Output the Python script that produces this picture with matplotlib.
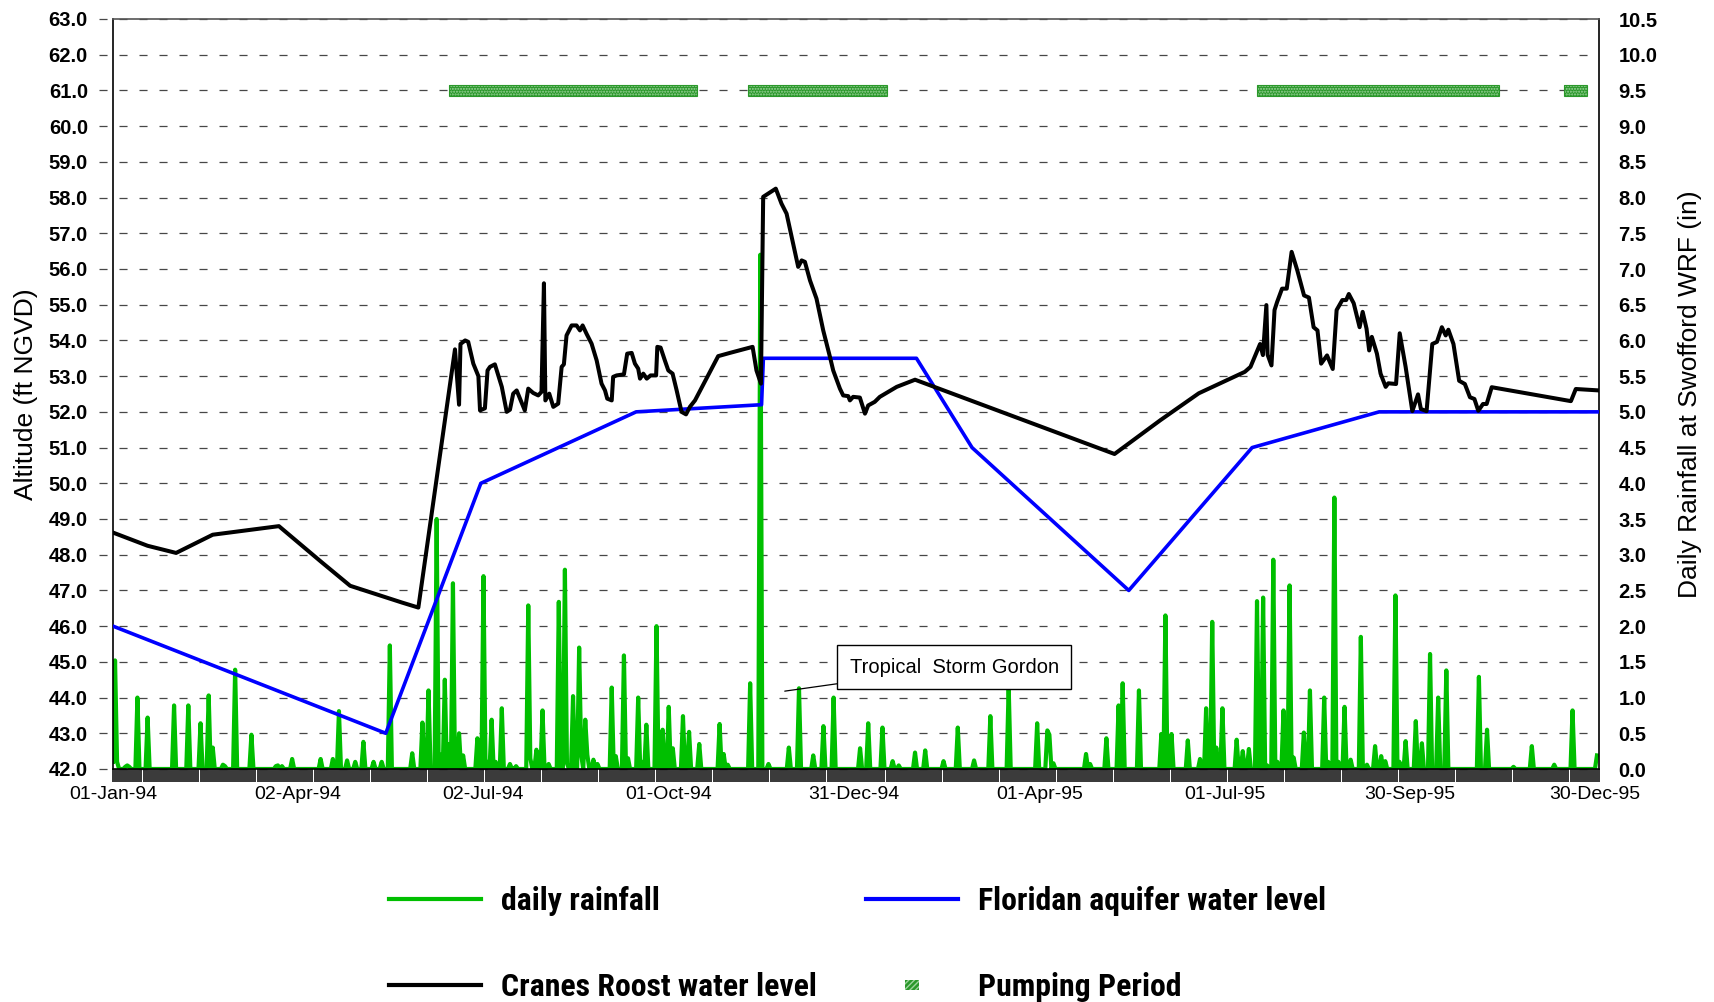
import os
import numpy as np
import pandas as pd
import matplotlib
matplotlib.use("Agg")
import matplotlib.pyplot as plt
import matplotlib.dates as mdates
import matplotlib.ticker as mticker
from matplotlib import font_manager as fm
from matplotlib.textpath import TextToPath
from matplotlib.lines import Line2D
from matplotlib.patches import Patch, Rectangle
from matplotlib.legend_handler import HandlerPatch
from matplotlib.font_manager import FontProperties

plt.rcParams["font.family"] = ["Liberation Sans", "DejaVu Sans"]

START = pd.Timestamp("1994-01-01")
END = pd.Timestamp("1996-01-01")

# Daily rainfall at Swofford WRF (in): day number counted from 01-Jan-94
rain_day = [0, 1, 2, 6, 7, 8, 12, 17, 30, 37, 43, 47, 49, 54, 55, 60, 68, 80, 81, 83,
            88, 102, 108, 111, 115, 119, 123, 128, 132, 136, 147, 152, 155, 159, 161,
            163, 165, 167, 170, 172, 179, 182, 184, 186, 188, 191, 195, 198, 204, 205,
            208, 211, 214, 219, 222, 223, 226, 229, 230, 232, 233, 236, 238, 245, 247,
            251, 253, 258, 260, 262, 267, 270, 273, 275, 280, 283, 288, 298, 300, 302,
            313, 318, 322, 332, 337, 344, 349, 354, 367, 371, 378, 383, 386, 394, 399,
            408, 415, 423, 431, 440, 454, 459, 460, 462, 478, 480, 488, 494, 496, 504,
            515, 517, 520, 528, 534, 537, 540, 542, 545, 552, 555, 558, 562, 565, 567,
            570, 572, 575, 578, 580, 585, 588, 595, 597, 600, 602, 605, 608, 613, 616,
            620, 623, 625, 630, 632, 635, 640, 643, 647, 651, 655, 671, 675, 688, 697,
            708, 717, 729]
rain_in = [0.10, 1.52, 0.10, 0.03, 0.05, 0.03, 1.00, 0.72, 0.89, 0.89, 0.64, 1.03, 0.30,
           0.06, 0.04, 1.39, 0.48, 0.04, 0.05, 0.04, 0.14, 0.14, 0.14, 0.81, 0.12, 0.10,
           0.38, 0.10, 0.10, 1.73, 0.22, 0.65, 1.10, 3.50, 0.20, 1.25, 0.35, 2.60, 0.50,
           0.19, 0.43, 2.70, 0.10, 0.69, 0.10, 0.85, 0.07, 0.04, 2.29, 0.15, 0.27, 0.82,
           0.07, 2.34, 2.79, 0.08, 1.02, 1.70, 0.20, 0.69, 0.20, 0.13, 0.07, 1.14, 0.18,
           1.59, 0.15, 1.00, 0.10, 0.62, 2.00, 0.55, 0.87, 0.29, 0.74, 0.52, 0.35, 0.63,
           0.21, 0.06, 1.20, 7.20, 0.07, 0.30, 1.13, 0.19, 0.60, 1.00, 0.29, 0.64, 0.58,
           0.11, 0.05, 0.23, 0.26, 0.11, 0.58, 0.12, 0.74, 1.15, 0.64, 0.54, 0.48, 0.08,
           0.21, 0.07, 0.43, 0.89, 1.20, 1.10, 0.49, 2.15, 0.49, 0.40, 0.14, 0.85, 2.06,
           0.30, 0.85, 0.41, 0.25, 0.28, 2.35, 2.40, 0.05, 2.93, 0.10, 0.82, 2.57, 0.16,
           0.51, 1.10, 1.00, 0.10, 3.80, 0.10, 0.87, 0.13, 1.85, 0.06, 0.32, 0.18, 0.11,
           2.43, 0.10, 0.39, 0.67, 0.36, 1.61, 1.00, 1.38, 1.29, 0.55, 0.03, 0.32, 0.06,
           0.82, 0.19]

# Cranes Roost water level (ft NGVD)
crane_day = [0, 17, 31, 49, 81.5, 102.5, 116.5, 142, 150, 168, 170, 170.7, 173, 174.5,
             177, 179.5, 180.3, 182.7, 184, 185.2, 187.6, 191, 193.4, 195, 196.6, 198.3,
             200.3, 202.3, 204, 206.4, 208.9, 210.5, 211.7, 212.4, 214.3, 216.3, 218.7,
             220.4, 221.5, 222.8, 225.3, 227.7, 229.4, 230.7, 232.6, 235.1, 237.6, 240,
             241.7, 242.8, 245, 245.7, 247.4, 251, 252.6, 254.8, 256.4, 258, 258.9,
             260.5, 262.2, 264.1, 266.8, 267.4, 269, 271.1, 272.8, 274.9, 276.9, 279.3,
             281.5, 283.4, 285.9, 297.3, 303, 314.2, 316.1, 318.3, 319.4, 325.6, 328.4,
             330.9, 333.4, 336.6, 338.3, 339.9, 342.4, 345.6, 348.9, 352.2, 353.8, 357.1,
             358.7, 361.2, 362, 363.6, 366.9, 369.4, 371, 374.2, 376.7, 385, 394, 492,
             514.6, 533.4, 556, 558.8, 563.5, 564.9, 566.6, 567.2, 569.1, 570.6, 571.9,
             574.3, 576.6, 579.0, 581.8, 585.1, 587.5, 589.8, 591.7, 593.5, 596.4, 599.2,
             601.1, 603.9, 605.8, 607.1, 609.5, 612.4, 613.9, 615.8, 617.1, 618.4, 620.9,
             622.7, 625.2, 626.5, 630.3, 632.1, 635.0, 638.3, 641.1, 642.5, 645.3, 648.1,
             650.4, 652.8, 654.7, 656.0, 658.5, 661.3, 664.1, 666.6, 668.8, 670.7, 673.0,
             674.8, 677.3, 716.2, 718.6, 730]
crane_ft = [48.62, 48.25, 48.05, 48.56, 48.80, 47.79, 47.13, 46.66, 46.52, 53.75, 52.20,
            53.90, 54.00, 53.96, 53.35, 53.00, 52.04, 52.10, 53.16, 53.26, 53.33, 52.70,
            52.00, 52.06, 52.51, 52.60, 52.32, 52.04, 52.65, 52.53, 52.46, 52.56, 55.60,
            52.32, 52.51, 52.14, 52.23, 53.26, 53.33, 54.14, 54.42, 54.42, 54.28, 54.42,
            54.19, 53.91, 53.44, 52.79, 52.60, 52.37, 52.32, 52.98, 53.02, 53.05, 53.63,
            53.65, 53.35, 53.21, 52.93, 53.07, 52.93, 53.02, 53.02, 53.82, 53.80, 53.44,
            53.16, 53.07, 52.60, 52.00, 51.93, 52.14, 52.32, 53.56, 53.65, 53.82, 53.16,
            52.79, 58.02, 58.25, 57.83, 57.55, 56.90, 56.06, 56.24, 56.20, 55.68, 55.17,
            54.28, 53.54, 53.16, 52.65, 52.46, 52.44, 52.32, 52.42, 52.40, 51.95, 52.18,
            52.28, 52.42, 52.70, 52.90, 50.82, 51.77, 52.52, 53.12, 53.26, 53.90, 53.59,
            54.99, 53.60, 53.30, 54.85, 55.08, 55.45, 55.45, 56.48, 55.96, 55.26, 55.20,
            54.37, 54.28, 53.35, 53.58, 53.20, 54.85, 55.13, 55.13, 55.30, 55.04, 54.37,
            54.80, 54.33, 53.72, 54.10, 53.63, 53.07, 52.70, 52.80, 52.78, 54.20, 53.26,
            52.02, 52.49, 52.08, 52.02, 53.90, 53.96, 54.37, 54.14, 54.30, 53.90, 52.87,
            52.78, 52.41, 52.36, 52.03, 52.22, 52.22, 52.69, 52.30, 52.64, 52.60]

# Floridan aquifer water level (ft NGVD)
floridan_day = [0, 134, 180.7, 257, 318.6, 319.5, 394.7, 422, 499, 559.6, 622, 730]
floridan_ft = [46.0, 43.0, 50.0, 52.0, 52.2, 53.5, 53.5, 51.0, 47.0, 51.0, 52.0, 52.0]

# Pumping periods
pump_start = ["1994-06-15", "1994-11-09", "1995-07-17", "1995-12-15"]
pump_end = ["1994-10-15", "1995-01-16", "1995-11-13", "1995-12-26"]
pump_level = 61.0

tick_dates = pd.date_range("1994-01-01", periods=9, freq="91D")

storm_label = "Tropical  Storm Gordon"
storm_point = (330, 44.18)
storm_box = (413.3, 44.85)

labels_col1 = ["daily rainfall", "Cranes Roost water level"]
labels_col2 = ["Floridan aquifer water level", "Pumping Period"]


# ---------------------------------------------------------------------------
def condensed_bold(target_px, sample, dpi=100):
    """Bold condensed face if one is installed, sized so `sample` spans target_px."""
    prefs = ["liberation sans narrow", "arial narrow", "roboto condensed",
             "noto sans", "dejavu sans", "open sans", "lato", "inter", "roboto"]
    best = None
    for f in fm.fontManager.ttflist:
        tag = (f.name + " " + os.path.basename(f.fname)).lower()
        narrow = ("narrow" in tag or "condensed" in tag
                  or f.stretch in ("condensed", "semi-condensed"))
        if not narrow or "extra" in tag or "ultra" in tag or f.style != "normal":
            continue
        w = f.weight if isinstance(f.weight, int) else fm.weight_dict.get(f.weight, 400)
        if w < 600:
            continue
        rank = next((i for i, p in enumerate(prefs) if p in tag), len(prefs))
        key = (rank, abs(w - 700), "semi" in tag)
        if best is None or key < best[0]:
            best = (key, f.fname)
    if best is not None:
        prop = FontProperties(fname=best[1], size=20)
    else:
        prop = FontProperties(family=["Liberation Sans", "DejaVu Sans"],
                              weight="bold", size=20)
    width_pt = TextToPath().get_text_width_height_descent(sample, prop, ismath=False)[0]
    size = 20 * (target_px * 72 / dpi) / width_pt
    prop.set_size(min(max(size, 15), 24))
    return prop


x0 = mdates.date2num(START)
rain_daily = np.zeros((END - START).days)
rain_daily[np.array(rain_day)] = rain_in
rain_x = x0 + np.arange(len(rain_daily))

GREEN = "#00bf00"
BLUE = "#0000ff"
PUMP = "#2a982a"

W, H = 1715, 1002
fig = plt.figure(figsize=(W / 100, H / 100), dpi=100)
left, right, bottom, top = 113, 1599, 769, 19
rect = [left / W, (H - bottom) / H, (right - left) / W, (bottom - top) / H]
ax = fig.add_axes(rect)
ax2 = ax.twinx()
ax.set_zorder(ax2.get_zorder() + 1)
ax.patch.set_visible(False)

ax.set_xlim(x0, mdates.date2num(END))
ax.set_ylim(42, 63)
ax2.set_ylim(0, 10.5)

# dashed grid, extended a little past the left spine
ext = -(14 / (right - left))
for v in np.arange(0, 10.51, 0.5):
    ax2.plot([ext, 1], [v, v], transform=ax2.get_yaxis_transform(), color="#474747",
             lw=0.9, ls=(0, (5.8 / 0.9, 8.6 / 0.9)), clip_on=False, zorder=1)

ax2.plot(rain_x, rain_daily, color=GREEN, lw=3.0, zorder=3)

ax.plot(x0 + np.array(floridan_day), floridan_ft, color=BLUE, lw=2.6, zorder=3)
ax.plot(x0 + np.array(crane_day), crane_ft, color="black", lw=2.9, zorder=4)

for s, e in zip(pump_start, pump_end):
    xs, xe = mdates.date2num(pd.Timestamp(s)), mdates.date2num(pd.Timestamp(e))
    ax.add_patch(Rectangle((xs, pump_level - 0.15), xe - xs, 0.3, facecolor=PUMP,
                           edgecolor="#9ed49e", hatch="......", lw=0, zorder=5))
    ax.add_patch(Rectangle((xs, pump_level - 0.15), xe - xs, 0.3, facecolor="none",
                           edgecolor=PUMP, lw=0.8, zorder=5))

ax.annotate(storm_label, xy=(x0 + storm_point[0], storm_point[1]),
            xytext=(x0 + storm_box[0], storm_box[1]), ha="center", va="center",
            fontsize=14.5, zorder=6,
            bbox=dict(boxstyle="square,pad=0.62", fc="white", ec="black", lw=1.0),
            arrowprops=dict(arrowstyle="-", color="black", lw=0.9, shrinkA=0, shrinkB=0))

# axes, ticks, labels
ax.set_xticks(mdates.date2num(tick_dates))
ax.xaxis.set_major_formatter(mdates.DateFormatter("%d-%b-%y"))
ax.xaxis.set_minor_locator(mdates.DayLocator())
ax.tick_params(axis="x", which="major", direction="out", length=9, width=1.1,
               pad=3.5, labelsize=14)
ax.tick_params(axis="x", which="minor", direction="out", length=9, width=1.1)
ax2.tick_params(axis="x", which="both", bottom=False, labelbottom=False)

ax.set_yticks(np.arange(42, 63.01, 1.0))
ax.yaxis.set_major_formatter(mticker.FormatStrFormatter("%.1f"))
ax.tick_params(axis="y", length=0, pad=18, labelsize=14.5)
for t in ax.get_yticklabels():
    t.set_fontweight("bold")

ax2.set_yticks(np.arange(0, 10.51, 0.5))
ax2.yaxis.set_major_formatter(mticker.FormatStrFormatter("%.1f"))
ax2.tick_params(axis="y", length=0, pad=14, labelsize=14.5)
for t in ax2.get_yticklabels():
    t.set_fontweight("bold")

ax.set_ylabel("Altitude (ft NGVD)", fontsize=19, labelpad=8)
ax2.set_ylabel("Daily Rainfall at Swofford WRF (in)", fontsize=19, labelpad=15)

for sp in ax2.spines.values():
    sp.set_visible(False)
ax.spines["left"].set_color("black")
ax.spines["right"].set_color("black")
ax.spines["bottom"].set_color("black")
ax.spines["top"].set_color("#555555")
for sp in ax.spines.values():
    sp.set_linewidth(1.2)


def small_rect(legend, orig_handle, xdescent, ydescent, width, height, fontsize):
    w, h = 10.5, 7.5
    return Rectangle((-xdescent + width / 2 - w / 2, -ydescent + height / 2 - h / 2), w, h)


legend_font = condensed_bold(315, labels_col1[1])
fs_px = legend_font.get_size_in_points() * 100 / 72
common = dict(loc="upper left", frameon=False, prop=legend_font,
              handlelength=92 / fs_px, handletextpad=20 / fs_px,
              labelspacing=1.76, borderpad=0, borderaxespad=0,
              handler_map={Patch: HandlerPatch(patch_func=small_rect)})

col1 = [Line2D([], [], color=GREEN, lw=3), Line2D([], [], color="black", lw=3)]
col2 = [Line2D([], [], color=BLUE, lw=3),
        Patch(facecolor=PUMP, edgecolor="#9ed49e", hatch="//////", lw=0)]
fig.legend(col1, labels_col1, bbox_to_anchor=(389 / W, (H - 886) / H), **common)
fig.legend(col2, labels_col2, bbox_to_anchor=(866 / W, (H - 886) / H), **common)

fig.savefig("out.png", dpi=100, facecolor="white")
